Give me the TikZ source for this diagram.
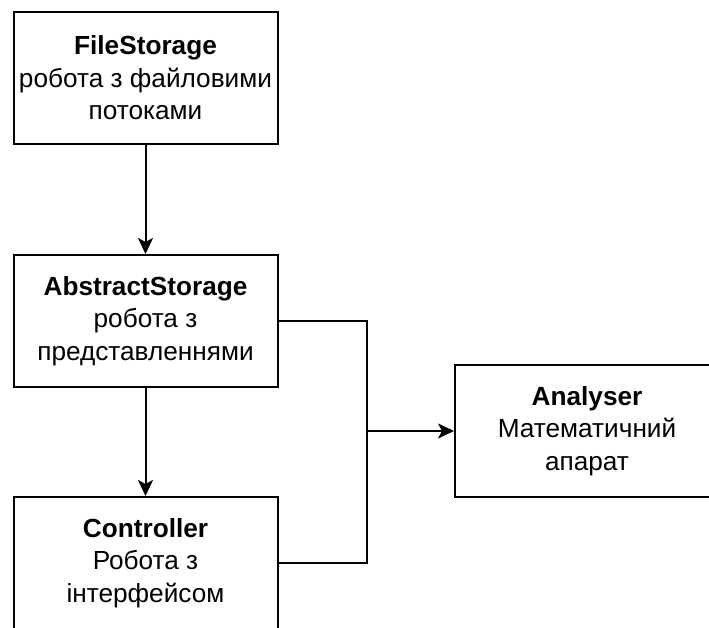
\documentclass[tikz,border=0pt]{standalone}
\usepackage{fontspec}
\setmainfont{Liberation Sans}
\usetikzlibrary{arrows.meta}
\tikzset{
  block/.style={draw=black, line width=2pt, fill=white, minimum width=264pt, minimum height=132pt,
    inner sep=0pt, align=center, font=\fontsize{26.2}{32.5}\selectfont},
  link/.style={draw=black, line width=2pt},
  tip/.style={-{Stealth[length=16pt,width=15pt,inset=4pt]}}
}
\begin{document}
\begin{tikzpicture}[x=1pt,y=-1pt]
\useasboundingbox (0,0) rectangle (709,628);
\clip (0,0) rectangle (709,628);
\fill[white] (0,0) rectangle (709,628);
\node[block] (fs) at (145.5,78) {\textbf{FileStorage}\\робота з файловими\\потоками};
\node[block] (as) at (145.5,321) {\textbf{AbstractStorage}\\робота з\\представленнями};
\node[block] (ct) at (145.5,563) {\textbf{Controller}\\Робота з\\інтерфейсом};
\node[block] (an) at (587,431) {\textbf{Analyser}\\Математичний\\апарат};
\coordinate (j) at (367,431);
\draw[link,tip] (fs) -- (as);
\draw[link,tip] (as) -- (ct);
\draw[link] (as.east) -| (j);
\draw[link] (ct.east) -| (j);
\draw[link,tip] (j) -- (an.west);
\end{tikzpicture}
\end{document}
